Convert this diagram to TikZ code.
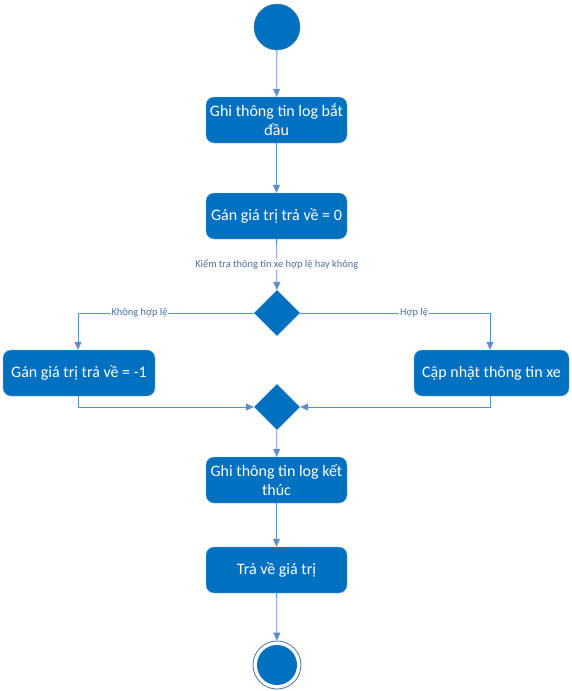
\documentclass[tikz,border=0pt]{standalone}
\usepackage{fontspec}
\setmainfont{Carlito}
\usetikzlibrary{arrows.meta,shapes.geometric,positioning}

\definecolor{actfill}{RGB}{0,112,192}
\definecolor{flowline}{RGB}{91,143,200}

\tikzset{
    action/.style = {draw=flowline!70!white, fill=actfill, rounded corners=8pt,
        minimum width=141pt, minimum height=46pt, text=white, align=center,
        font=\fontsize{16}{19}\selectfont, inner sep=2pt},
    decision/.style = {diamond, fill=actfill, minimum width=46pt, minimum height=46pt, inner sep=0pt},
    flow/.style = {flowline, line width=0.8pt, -{Triangle[width=7pt,length=8pt]}},
    guard/.style = {fill=white, text=flowline!80!black, font=\fontsize{10.4}{12}\selectfont, inner sep=1pt}
}

\begin{document}
\begin{tikzpicture}[x=1pt, y=-1pt]
    \useasboundingbox (0,0) rectangle (571,691);

    % Draw start and end
    \node[circle, fill=actfill, draw=flowline!80!black, minimum size=46pt] (start) at (277,27) {};
    \node[circle, draw=flowline!80!black, line width=0.8pt, minimum size=48pt] (stop) at (277,665) {};
    \node[circle, fill=actfill, minimum size=40pt] at (stop) {};

    % Draw actions
    \node[action] (logstart) at (276.5,120) {Ghi thông tin log bắt\\đầu};
    \node[action] (setzero) at (276.5,216) {Gán giá trị trả về = 0};
    \node[action, minimum width=152pt] (setneg) at (79,373) {Gán giá trị trả về = -1};
    \node[action, minimum width=155pt] (update) at (491.5,373) {Cập nhật thông tin xe};
    \node[action] (logend) at (276.5,480) {Ghi thông tin log kết\\thúc};
    \node[action] (result) at (276.5,570) {Trả về giá trị};

    % Draw decisions
    \node[decision] (check) at (277,313) {};
    \node[decision] (merge) at (277,407) {};

    % Draw the flow
    \draw[flow] (start) -- (logstart);
    \draw[flow] (logstart) -- (setzero);
    \draw[flow] (setzero) -- node[guard, pos=0.5] {Kiểm tra thông tin xe hợp lệ hay không} (check);
    \draw[flow] (check.west) -| node[guard, pos=0.325] {Không hợp lệ} ([xshift=-1pt]setneg.north);
    \draw[flow] (check.east) -| node[guard, pos=0.3] {Hợp lệ} ([xshift=-1.5pt]update.north);
    \draw[flow] ([xshift=-1pt]setneg.south) |- (merge.west);
    \draw[flow] ([xshift=-1.5pt]update.south) |- (merge.east);
    \draw[flow] (merge) -- (logend);
    \draw[flow] (logend) -- (result);
    \draw[flow] (result) -- (stop);

\end{tikzpicture}
\end{document}
